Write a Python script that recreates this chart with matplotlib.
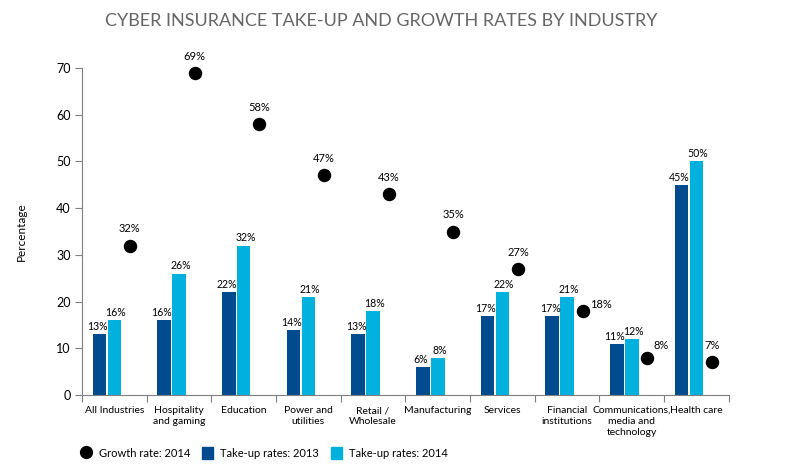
import numpy as np
import matplotlib.pyplot as plt
from matplotlib.lines import Line2D
from matplotlib.patches import Patch

# data
industries = ["All Industries", "Hospitality\nand gaming", "Education", "Power and\nutilities",
              "Retail /\nWholesale", "Manufacturing", "Services", "Financial\ninstitutions",
              "Communications,\nmedia and\ntechnology", "Health care"]
take_up_2013 = [13, 16, 22, 14, 13, 6, 17, 17, 11, 45]
take_up_2014 = [16, 26, 32, 21, 18, 8, 22, 21, 12, 50]
growth_2014 = [32, 69, 58, 47, 43, 35, 27, 18, 8, 7]

# label placement for the growth dots (points offset from dot)
dot_label_dx = [0, 0, 0, 0, 0, 0, 0, 13, 10, 0]
dot_label_dy = [8, 8, 8, 8, 8, 8, 8, 1, 5, 8]

dark = "#004b8d"
light = "#00b1dd"
grey = "#7f7f7f"
plt.rcParams['font.family'] = ["Lato", "DejaVu Sans"]

fig = plt.figure(figsize=(7.86, 4.72), dpi=100)
ax = fig.add_axes([0.1043, 0.163, 0.823, 0.693])

x = np.arange(len(industries))
w = 0.21
ax.bar(x - 0.23, take_up_2013, w, color=dark, zorder=2)
ax.bar(x, take_up_2014, w, color=light, zorder=2)
ax.scatter(x + 0.24, growth_2014, s=75, color="black", zorder=3, clip_on=False)

for i in range(len(x)):
    ax.annotate(f"{take_up_2013[i]}%", (x[i] - 0.23, take_up_2013[i]), xytext=(-1.5, 1.5),
                textcoords="offset points", ha="center", va="bottom", fontsize=7.6)
    ax.annotate(f"{take_up_2014[i]}%", (x[i], take_up_2014[i]), xytext=(1.2, 1.5),
                textcoords="offset points", ha="center", va="bottom", fontsize=7.6)
    ax.annotate(f"{growth_2014[i]}%", (x[i] + 0.24, growth_2014[i]),
                xytext=(dot_label_dx[i], dot_label_dy[i]), textcoords="offset points",
                ha="center", va="bottom", fontsize=8, annotation_clip=False)

ax.set_xlim(-0.5, len(x) - 0.5)
ax.set_ylim(0, 70)
ax.set_yticks(range(0, 71, 10))
ax.set_xticks(np.arange(len(x) + 1) - 0.5)
ax.set_xticklabels([])
ax.set_xticks(x, minor=True)
ax.set_xticklabels(industries, minor=True, fontsize=7.5, linespacing=1.3)
ax.tick_params(axis="x", which="minor", length=0, pad=8)
ax.tick_params(axis="x", which="major", length=5, color=grey)
ax.tick_params(axis="y", length=5, color=grey, labelsize=9, pad=3)
for s in ["top", "right"]:
    ax.spines[s].set_visible(False)
for s in ["left", "bottom"]:
    ax.spines[s].set_color(grey)
ax.set_ylabel("Percentage", fontsize=8.5, labelpad=21)

fig.text(0.485, 0.955, "CYBER INSURANCE TAKE-UP AND GROWTH RATES BY INDUSTRY",
         ha="center", va="center", fontsize=13, color="#666666")

handles = [Line2D([], [], marker="o", color="black", linestyle="none", markersize=8.5),
           Patch(color=dark), Patch(color=light)]
labels = ["Growth rate: 2014", "Take-up rates: 2013", "Take-up rates: 2014"]
fig.legend(handles, labels, loc="center left", bbox_to_anchor=(0.09, 0.04), ncol=3,
           frameon=False, fontsize=8, handlelength=1.0, handleheight=1.3,
           handletextpad=0.6, columnspacing=1.1)

fig.savefig("out.png", dpi=100)
